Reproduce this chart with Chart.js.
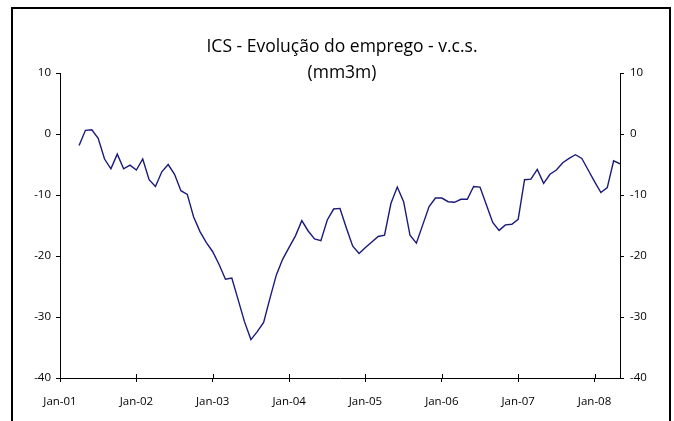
<!DOCTYPE html>
<html>
<head>
<meta charset="utf-8">
<script src="https://cdn.jsdelivr.net/npm/chart.js@4.4.0/dist/chart.umd.min.js"></script>
<style>
html, body { margin: 0; padding: 0; background: #fff; overflow: hidden; }
#wrap { position: relative; width: 674px; height: 421px; }
#frame { position: absolute; left: 11px; top: 7px; width: 656px; height: 480px; border: 2px solid #000; }
canvas { position: absolute; left: 0; top: 0; }
</style>
</head>
<body>
<div id="wrap">
  <canvas id="myChart" width="674" height="421"></canvas>
  <div id="frame"></div>
</div>
<script>
const titleLines = ['ICS - Evolução do emprego - v.c.s.', '(mm3m)'];
const tickLabels = ['Jan-01', 'Jan-02', 'Jan-03', 'Jan-04', 'Jan-05', 'Jan-06', 'Jan-07', 'Jan-08'];
const yTicks = [10, 0, -10, -20, -30, -40];
// months counted from Jan-01; first value is Apr-01, last is May-08
const firstMonth = 3;
const lastMonth = 88;
const values = [
  -1.9, 0.6, 0.7, -0.7, -4.1, -5.7, -3.3, -5.7, -5.1,            // 2001 Apr-Dec
  -5.9, -4.1, -7.5, -8.6, -6.2, -5.0, -6.6, -9.3, -9.9, -13.6, -16.0, -17.8,   // 2002
  -19.3, -21.4, -23.8, -23.6, -27.2, -30.8, -33.7, -32.4, -30.9, -26.9, -23.1, -20.5, // 2003
  -18.6, -16.7, -14.2, -15.9, -17.2, -17.5, -14.1, -12.3, -12.2, -15.4, -18.4, -19.6, // 2004
  -18.6, -17.7, -16.8, -16.6, -11.4, -8.7, -11.1, -16.6, -17.9, -14.9, -11.9, -10.5,  // 2005
  -10.5, -11.1, -11.2, -10.7, -10.7, -8.6, -8.7, -11.6, -14.5, -15.8, -14.9, -14.8,   // 2006
  -14.0, -7.5, -7.4, -5.8, -8.1, -6.6, -5.9, -4.7, -4.0, -3.4, -4.0, -5.9,            // 2007
  -7.8, -9.6, -8.8, -4.4, -4.9                                                        // 2008 Jan-May
];

const points = values.map((v, i) => ({ x: firstMonth + i, y: v }));

const tickFont = { family: '"Open Sans", "Noto Sans", sans-serif', size: 11.5 };

const titlePlugin = {
  id: 'twoLineTitle',
  afterDraw(chart) {
    const c = chart.ctx;
    const mid = (chart.chartArea.left + chart.chartArea.right) / 2;
    c.save();
    c.font = '17.5px "Open Sans", "Noto Sans", sans-serif';
    c.fillStyle = '#000';
    c.textAlign = 'center';
    c.textBaseline = 'middle';
    titleLines.forEach((t, i) => c.fillText(t, mid + 2, 47 + i * 26));
    c.restore();
  }
};

// x tick marks cross the axis line in the original
const crossTicks = {
  id: 'crossTicks',
  afterDraw(chart) {
    const sx = chart.scales.x;
    const c = chart.ctx;
    c.save();
    c.strokeStyle = '#000';
    c.lineWidth = 1;
    c.beginPath();
    sx.ticks.forEach(t => {
      const px = Math.round(sx.getPixelForValue(t.value)) + 0.5;
      c.moveTo(px, sx.top - 4);
      c.lineTo(px, sx.top);
    });
    c.stroke();
    c.restore();
  }
};

const ctx = document.getElementById('myChart').getContext('2d');

new Chart(ctx, {
  type: 'line',
  data: {
    datasets: [{
      data: points,
      borderColor: '#1a1a7a',
      borderWidth: 1.4,
      pointRadius: 0,
      tension: 0,
      fill: false
    }]
  },
  options: {
    responsive: false,
    animation: false,
    layout: { padding: { top: 73, left: 0, right: 0, bottom: 0 } },
    plugins: {
      legend: { display: false },
      title: { display: false },
      tooltip: { enabled: false }
    },
    scales: {
      x: {
        type: 'linear',
        min: 0,
        max: lastMonth,
        afterBuildTicks: (scale) => { scale.ticks = tickLabels.map((_, i) => ({ value: i * 12 })); },
        afterFit: (scale) => { scale.height = 43; },
        border: { color: '#000', width: 1 },
        grid: { drawOnChartArea: false, drawTicks: true, tickLength: 4, color: '#000' },
        ticks: {
          color: '#000',
          font: tickFont,
          padding: 13,
          maxRotation: 0,
          autoSkip: false,
          callback: (v) => tickLabels[Math.round(v / 12)]
        }
      },
      y: {
        position: 'left',
        min: -40,
        max: 10,
        afterBuildTicks: (scale) => { scale.ticks = yTicks.map(v => ({ value: v })); },
        afterFit: (scale) => { scale.width = 60; },
        border: { color: '#000', width: 1 },
        grid: { drawOnChartArea: false, drawTicks: true, tickLength: 4, color: '#000' },
        ticks: { color: '#000', font: tickFont, padding: 5 }
      },
      y2: {
        position: 'right',
        display: true,
        min: -40,
        max: 10,
        afterBuildTicks: (scale) => { scale.ticks = yTicks.map(v => ({ value: v })); },
        afterFit: (scale) => { scale.width = 54; },
        border: { color: '#000', width: 1 },
        grid: { drawOnChartArea: false, drawTicks: true, tickLength: 4, color: '#000' },
        ticks: { color: '#000', font: tickFont, padding: 6 }
      }
    }
  },
  plugins: [titlePlugin, crossTicks]
});
</script>
</body>
</html>
